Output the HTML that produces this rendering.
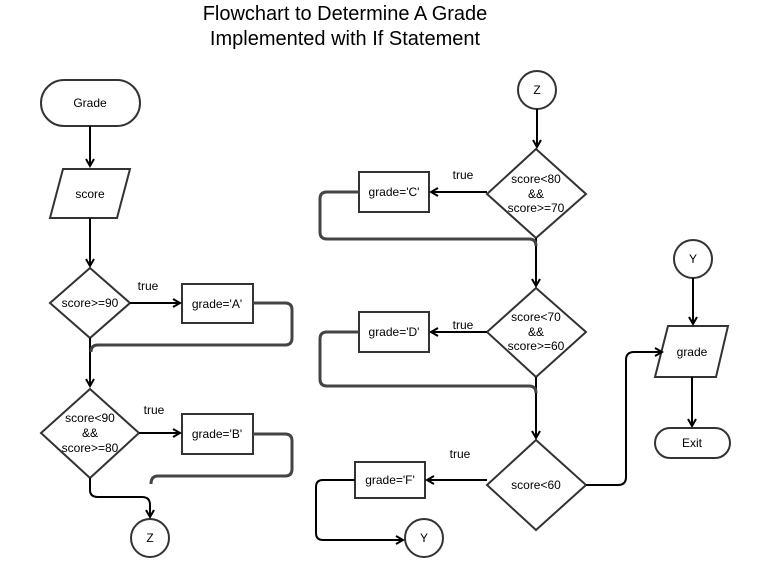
<!DOCTYPE html>
<html><head><style>body{margin:0;background:#fff}svg{display:block}</style></head><body>
<svg width="770" height="579" xmlns="http://www.w3.org/2000/svg" font-family="Liberation Sans, Arial, sans-serif">
<defs><marker id="a" markerWidth="10" markerHeight="10" refX="8" refY="5" orient="auto" markerUnits="userSpaceOnUse"><path d="M1,1 L8,5 L1,9" fill="none" stroke="#000" stroke-width="2"/></marker></defs>
<text x="345" y="20" font-size="20" text-anchor="middle">Flowchart to Determine A Grade</text>
<text x="345" y="45" font-size="20" text-anchor="middle">Implemented with If Statement</text>
<g fill="#fff" stroke="#333" stroke-width="2">
<rect x="41" y="80" width="99" height="46" rx="23"/>
<polygon points="63,169 130,169 117,218 50,218"/>
<polygon points="90,268 130,303 90,338 50,303"/>
<rect x="182" y="284" width="71" height="39"/>
<polygon points="90,389 139,433 90,478 41,433"/>
<rect x="182" y="414" width="71" height="40"/>
<circle cx="150" cy="538" r="19"/>
<circle cx="537" cy="90" r="19"/>
<polygon points="536,149 586,194 536,238 487,194"/>
<rect x="359" y="172" width="70" height="40"/>
<polygon points="536,288 586,332 536,377 487,332"/>
<rect x="359" y="312" width="70" height="40"/>
<polygon points="536,440 586,485 536,530 487,485"/>
<rect x="355" y="462" width="70" height="36"/>
<circle cx="424" cy="538" r="19"/>
<circle cx="693" cy="259" r="19"/>
<polygon points="668,326 728,326 716,377 655,377"/>
<rect x="655" y="428" width="75" height="30" rx="15"/>
</g>
<g fill="none" stroke="#000" stroke-width="2">
<path d="M90,126V166" marker-end="url(#a)"/>
<path d="M90,218V266" marker-end="url(#a)"/>
<path d="M130,303H180" marker-end="url(#a)"/>
<path d="M90,338V386" marker-end="url(#a)"/>
<path d="M139,433H180" marker-end="url(#a)"/>
<path d="M537,109V147" marker-end="url(#a)"/>
<path d="M487,192H431" marker-end="url(#a)"/>
<path d="M536,238V286" marker-end="url(#a)"/>
<path d="M487,332H431" marker-end="url(#a)"/>
<path d="M536,377V438" marker-end="url(#a)"/>
<path d="M487,480H427" marker-end="url(#a)"/>
<path d="M693,278V324" marker-end="url(#a)"/>
<path d="M692,377V426" marker-end="url(#a)"/>
<path d="M586,485H618Q626,485 626,477V360Q626,352 634,352H662" marker-end="url(#a)"/>
<path d="M90,478V490Q90,497 98,497H142Q150,497 150,505V517" marker-end="url(#a)"/>
</g>
<g fill="none" stroke="#444" stroke-width="3">
<path d="M253,303H285Q292,303 292,310V338Q292,345 285,345H98Q91,345 91,352"/>
<path d="M253,434H285Q292,434 292,441V469Q292,476 285,476H158Q151,476 151,484"/>
<path d="M359,192H327Q320,192 320,199V232Q320,239 327,239H529Q536,239 536,246"/>
<path d="M359,332H327Q320,332 320,339V379Q320,386 327,386H529Q536,386 536,393"/>
</g>
<path d="M355,480H323Q316,480 316,487V533Q316,540 323,540H403" fill="none" stroke="#000" stroke-width="2" marker-end="url(#a)"/>
<g font-size="12" text-anchor="middle" fill="#000">
<text x="90" y="107">Grade</text>
<text x="90" y="198">score</text>
<text x="90" y="307">score&gt;=90</text>
<text x="217" y="308">grade='A'</text>
<text x="148" y="290">true</text>
<text x="90" y="422">score&lt;90</text>
<text x="90" y="437">&amp;&amp;</text>
<text x="90" y="452">score&gt;=80</text>
<text x="217" y="438">grade='B'</text>
<text x="154" y="414">true</text>
<text x="150" y="542">Z</text>
<text x="537" y="94">Z</text>
<text x="536" y="183">score&lt;80</text>
<text x="536" y="198">&amp;&amp;</text>
<text x="536" y="212">score&gt;=70</text>
<text x="394" y="196">grade='C'</text>
<text x="463" y="179">true</text>
<text x="536" y="321">score&lt;70</text>
<text x="536" y="336">&amp;&amp;</text>
<text x="536" y="350">score&gt;=60</text>
<text x="394" y="336">grade='D'</text>
<text x="463" y="329">true</text>
<text x="536" y="489">score&lt;60</text>
<text x="390" y="484">grade='F'</text>
<text x="460" y="458">true</text>
<text x="424" y="542">Y</text>
<text x="693" y="263">Y</text>
<text x="692" y="356">grade</text>
<text x="692" y="447">Exit</text>
</g>
</svg>
</body></html>
